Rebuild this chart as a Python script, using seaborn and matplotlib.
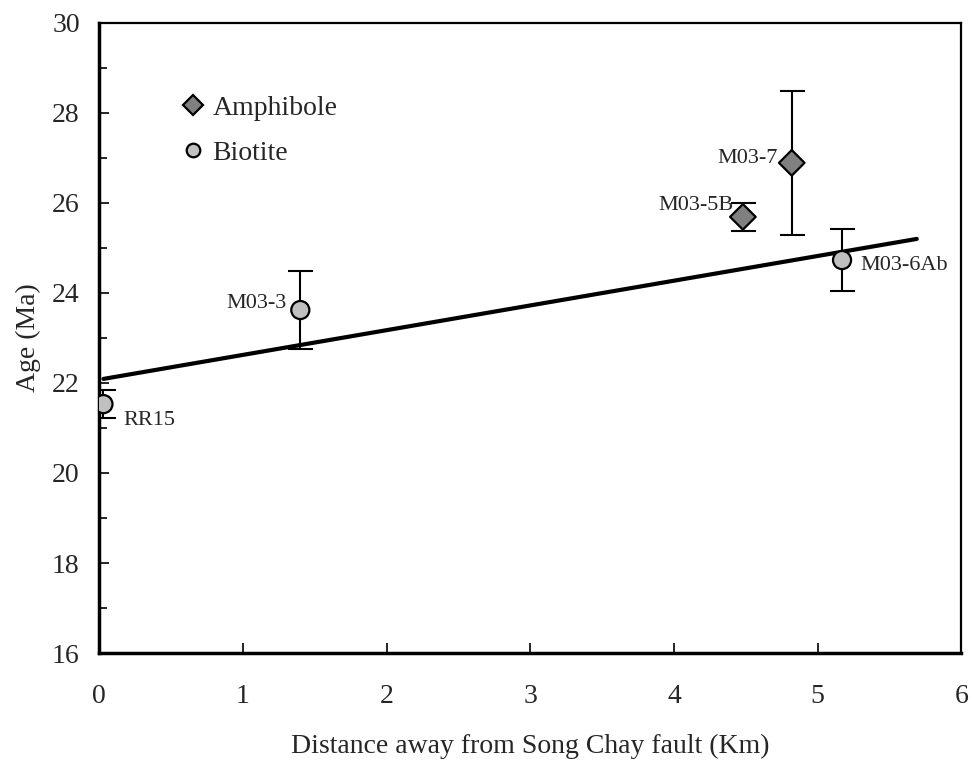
import matplotlib
matplotlib.use("Agg")
import matplotlib.pyplot as plt
import seaborn as sns
import pandas as pd
from matplotlib.ticker import MultipleLocator

# Data
samples = ["RR15", "M03-3", "M03-5B", "M03-7", "M03-6Ab"]
minerals = ["Biotite", "Biotite", "Amphibole", "Amphibole", "Biotite"]
distance_km = [0.03, 1.40, 4.48, 4.82, 5.17]
age_ma = [21.53, 23.62, 25.69, 26.89, 24.73]
age_err = [0.31, 0.87, 0.31, 1.60, 0.68]

fit_x = [0.03, 5.69]
fit_y = [22.09, 25.20]

df = pd.DataFrame({"sample": samples, "mineral": minerals, "x": distance_km,
                   "y": age_ma, "err": age_err})

sns.set_theme(style="ticks")
plt.rcParams["font.family"] = ["Liberation Serif", "DejaVu Serif"]

fig = plt.figure(figsize=(9.72, 7.62), dpi=100)
ax = fig.add_axes([0.102, 0.143, 0.887, 0.827])

# regression line
sns.lineplot(x=fit_x, y=fit_y, ax=ax, color="black", linewidth=3, zorder=2)

# error bars
ax.errorbar(df["x"], df["y"], yerr=df["err"], fmt="none", ecolor="black",
            elinewidth=1.5, capsize=9, capthick=1.5, zorder=3)

sns.scatterplot(data=df, x="x", y="y", hue="mineral", style="mineral",
                hue_order=["Amphibole", "Biotite"],
                palette={"Amphibole": "#808080", "Biotite": "#c0c0c0"},
                markers={"Amphibole": "D", "Biotite": "o"},
                s=170, edgecolor="black", linewidth=1.6, ax=ax, zorder=4,
                legend=True)

# sample labels
offsets = {"RR15": (14, -12, "left"), "M03-3": (-10, 5, "right"),
           "M03-5B": (-7, 8, "right"), "M03-7": (-10, 3, "right"),
           "M03-6Ab": (13, -4, "left")}
for s, x, y in zip(samples, distance_km, age_ma):
    dx, dy, ha = offsets[s]
    ax.annotate(s, (x, y), xytext=(dx, dy), textcoords="offset points",
                ha=ha, va="center", fontsize=16)

ax.set_xlim(0, 6)
ax.set_ylim(16, 30)
ax.xaxis.set_major_locator(MultipleLocator(1))
ax.yaxis.set_major_locator(MultipleLocator(2))
ax.yaxis.set_minor_locator(MultipleLocator(1))
ax.tick_params(axis="both", which="both", direction="in", labelsize=20,
               width=1.2, color="black", top=False, right=False)
ax.tick_params(axis="both", which="major", length=7)
ax.tick_params(axis="x", which="major", pad=22)
ax.tick_params(axis="y", which="major", pad=14)
ax.tick_params(axis="y", which="minor", length=6)
for sp in ax.spines.values():
    sp.set_visible(True)
    sp.set_linewidth(1.6)
    sp.set_color("black")
ax.spines["left"].set_linewidth(2.5)
ax.spines["bottom"].set_linewidth(2.5)

ax.set_xlabel("Distance away from Song Chay fault (Km)", fontsize=20, labelpad=18)
ax.set_ylabel("Age (Ma)", fontsize=20, labelpad=8)

leg = ax.legend(loc="upper left", bbox_to_anchor=(0.064, 0.924), frameon=False,
                fontsize=20, handlelength=1.0, handletextpad=0.2,
                labelspacing=0.7, markerscale=0.75, title=None)

fig.savefig("out.png", dpi=100, facecolor="white")
